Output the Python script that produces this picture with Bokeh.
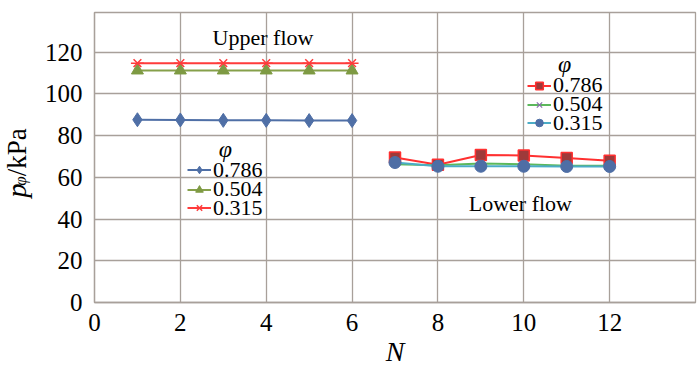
import math
from bokeh.plotting import figure
from bokeh.layouts import row
from bokeh.models import Range1d, FixedTicker, Label, Legend, LegendItem
from bokeh.embed import file_html
from bokeh.resources import INLINE

# ---------------- data ----------------
N_upper = [1, 2, 3, 4, 5, 6]
p_upper_786 = [87.6, 87.5, 87.3, 87.3, 87.2, 87.2]
p_upper_504 = [111.2, 111.2, 111.2, 111.2, 111.2, 111.2]
p_upper_315 = [114.7, 114.7, 114.7, 114.7, 114.7, 114.7]

N_lower = [7, 8, 9, 10, 11, 12]
p_lower_786 = [69.5, 66.0, 70.7, 70.5, 69.3, 68.0]
p_lower_504 = [66.3, 65.8, 66.6, 66.3, 65.6, 65.5]
p_lower_315 = [67.1, 65.3, 65.3, 65.3, 65.2, 65.2]

phi_labels = ["0.786", "0.504", "0.315"]
x_ticks = [0, 2, 4, 6, 8, 10, 12]
y_ticks = [0, 20, 40, 60, 80, 100, 120]

SERIF = "Liberation Serif"
GRID = "#A8A09A"
STRIP_W = 38

# ---------------- main plot ----------------
p = figure(width=700 - STRIP_W, height=370, output_backend="svg", toolbar_location=None,
           x_range=Range1d(0, 14), y_range=Range1d(0, 139),
           min_border_left=94 - STRIP_W, min_border_right=5, min_border_top=12, min_border_bottom=68)
p.outline_line_color = GRID
p.outline_line_width = 1.3
p.background_fill_color = "white"

for ax in (p.xaxis[0], p.yaxis[0]):
    ax.axis_line_color = GRID
    ax.axis_line_width = 1.3
    ax.major_tick_line_color = None
    ax.minor_tick_line_color = None
    ax.major_label_text_font = SERIF
    ax.major_label_text_font_size = "25px"
    ax.major_label_text_color = "black"
p.xaxis.ticker = FixedTicker(ticks=x_ticks)
p.yaxis.ticker = FixedTicker(ticks=y_ticks)
p.xaxis.major_label_standoff = 5
p.yaxis.major_label_standoff = 6
p.xaxis.axis_label = "N"
p.xaxis.axis_label_text_font = SERIF
p.xaxis.axis_label_text_font_style = "italic"
p.xaxis.axis_label_text_font_size = "28px"
p.xaxis.axis_label_text_color = "black"
p.xaxis.axis_label_standoff = 2
p.xgrid.ticker = FixedTicker(ticks=x_ticks)
p.ygrid.ticker = FixedTicker(ticks=y_ticks)
p.xgrid.grid_line_color = GRID
p.ygrid.grid_line_color = GRID
p.xgrid.grid_line_width = 1.3
p.ygrid.grid_line_width = 1.3

# ---------- upper flow ----------
c1, c2, c3 = "#4F6FA6", "#86A04A", "#FF3B3B"
u1l = p.line(N_upper, p_upper_786, line_color=c1, line_width=2)
u1m = p.scatter(N_upper, p_upper_786, marker="diamond", size=14, fill_color=c1, line_color=c1)
u2l = p.line(N_upper, p_upper_504, line_color=c2, line_width=2)
u2m = p.scatter(N_upper, p_upper_504, marker="triangle", size=12, fill_color="#7E9A43", line_color="#7E9A43")
u3l = p.line(N_upper, p_upper_315, line_color=c3, line_width=2)
u3m = p.scatter(N_upper, p_upper_315, marker="x", size=11, line_color=c3, line_width=1.5)
u3d = p.scatter(N_upper, p_upper_315, marker="dash", size=13, line_color=c3, line_width=1.5)

# ---------- lower flow ----------
d1, d2, d3 = "#FF3030", "#5CB85C", "#4BACC6"
l1l = p.line(N_lower, p_lower_786, line_color=d1, line_width=2)
l1m = p.scatter(N_lower, p_lower_786, marker="square", size=11, fill_color="#9E3A3A", line_color=d1, line_width=1.5)
l2l = p.line(N_lower, p_lower_504, line_color=d2, line_width=2)
l2m = p.scatter(N_lower, p_lower_504, marker="x", size=9, line_color="#8A6FAD", line_width=1.2)
l3l = p.line(N_lower, p_lower_315, line_color=d3, line_width=2)
l3m = p.scatter(N_lower, p_lower_315, marker="circle", size=12, fill_color="#4E6EA5", line_color="#4E6EA5")


def add_legend_entry(label, renderers, loc):
    p.add_layout(Legend(items=[LegendItem(label=label, renderers=renderers)],
                        location=loc, orientation="vertical",
                        background_fill_alpha=0, border_line_color=None,
                        padding=0, margin=0, spacing=0,
                        glyph_width=24, glyph_height=19, label_height=19,
                        label_standoff=2,
                        label_text_font=SERIF, label_text_font_size="22px",
                        label_text_color="black"))


# upper-flow legend (one entry per Legend so rows sit as tight as the reference)
add_legend_entry(phi_labels[0], [u1l, u1m], (93, 119.5))
add_legend_entry(phi_labels[1], [u2l, u2m], (93, 100))
add_legend_entry(phi_labels[2], [u3l, u3m, u3d], (93, 81.5))
# lower-flow legend
add_legend_entry(phi_labels[0], [l1l, l1m], (433, 204))
add_legend_entry(phi_labels[1], [l2l, l2m], (433, 185))
add_legend_entry(phi_labels[2], [l3l, l3m], (433, 166.5))


def txt(fig, x, y, s, size, style="normal", angle=0, align="center", baseline="middle"):
    fig.add_layout(Label(x=x, y=y, text=s, angle=angle,
                         text_font=SERIF, text_font_size=size, text_font_style=style,
                         text_align=align, text_baseline=baseline, text_color="black"))


txt(p, 3.925, 127, "Upper flow", "22px")
txt(p, 9.92, 47.5, "Lower flow", "22px")
txt(p, 3.05, 73.5, "φ", "24px", style="italic")
txt(p, 10.95, 114.1, "φ", "24px", style="italic")

# ---------------- strip holding the rotated y-axis title ----------------
s = figure(width=STRIP_W, height=370, output_backend="svg", toolbar_location=None,
           x_axis_location=None, y_axis_location=None,
           x_range=Range1d(0, STRIP_W), y_range=Range1d(0, 370),
           min_border=0, min_border_left=0, min_border_right=0, min_border_top=0, min_border_bottom=0)
s.grid.visible = False
s.outline_line_color = None
txt(s, 16, 134, "p", "28px", style="italic", angle=math.pi / 2, align="left", baseline="alphabetic")
txt(s, 20, 149, "φ", "17px", style="italic", angle=math.pi / 2, align="left", baseline="alphabetic")
txt(s, 16, 161, "/kPa", "27px", angle=math.pi / 2, align="left", baseline="alphabetic")

layout = row(s, p)
open("out.html", "w").write(file_html(layout, INLINE))
